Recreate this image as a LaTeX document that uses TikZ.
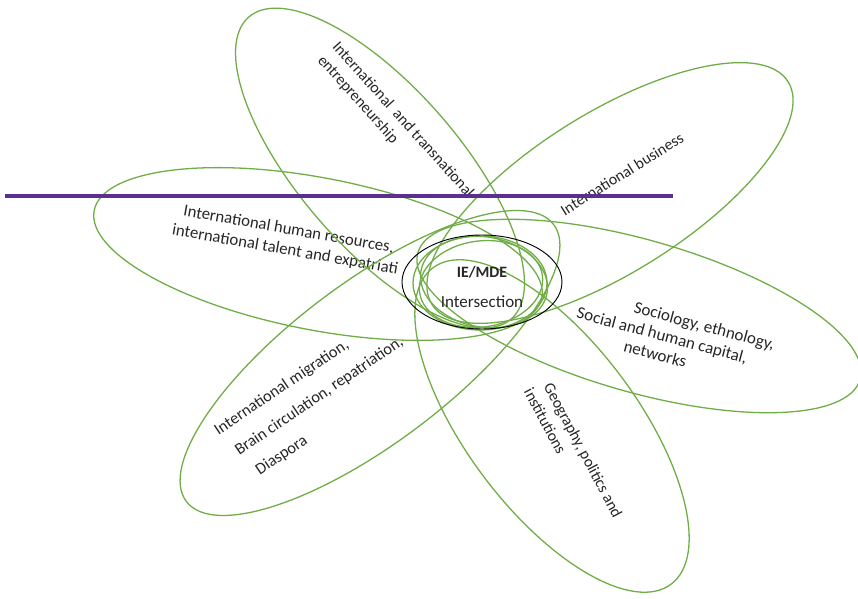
\documentclass[tikz,border=0pt]{standalone}
\usepackage{fontspec}
\setmainfont{Carlito}
\definecolor{petalgreen}{RGB}{112,173,71}
\definecolor{textgray}{RGB}{38,38,38}
\definecolor{rulepurple}{RGB}{92,46,145}

\begin{document}
\begin{tikzpicture}[x=0.03cm,y=-0.03cm,
  petal/.style={draw=petalgreen,line width=1.1pt},
  lbl/.style={text=textgray,font=\fontsize{13.5}{17}\selectfont,inner sep=0pt,align=left}]
  \useasboundingbox (0,0) rectangle (858,599);
  % labels of the petals
  \node[lbl,rotate=-48,anchor=north west] (entre) at (340,40) {International\ \ and transnational\\entrepreneurship};
  \node[lbl,rotate=32] (busi) at (622,174) {International business};
  \node[lbl,rotate=-10,align=center,font=\fontsize{14.3}{17.5}\selectfont] (hr) at (287,240) {International human resources,\\international talent and expatriati};
  \node[lbl,rotate=-15,anchor=north west,font=\fontsize{14.5}{17}\selectfont] (socio) at (584,287) {\hspace*{46pt}Sociology, ethnology,\\Social and human capital,\\\hspace*{46pt}networks};
  \node[lbl,rotate=34,anchor=north west,font=\fontsize{14}{24}\selectfont] (migr) at (212,426) {International migration,\\\hspace*{5pt}Brain circulation, repatriation,\\\hspace*{10pt}Diaspora};
  \node[lbl,rotate=-62,anchor=north west] (geo) at (551,377) {\hspace*{4pt}Geography, politics and\\institutions};
  % the six petals
  \draw[petal,rotate around={-49:(380,168)}] (380,168) ellipse (200 and 80);
  \draw[petal,rotate around={32:(610,193)}] (610,193) ellipse (210 and 80);
  \draw[petal,rotate around={-11:(318,254)}] (318,254) ellipse (228 and 76);
  \draw[petal,rotate around={-16:(639,316)}] (639,316) ellipse (230 and 76);
  \draw[petal,rotate around={37:(370,363)}] (370,363) ellipse (230 and 80);
  \draw[petal,rotate around={-53:(552,426)}] (552,426) ellipse (198 and 85);
  % centre
  \draw[petal] (480,283) ellipse (67 and 47);
  \draw[petal,rotate around={8:(481,284)}] (481,284) ellipse (62 and 43);
  \draw[petal,rotate around={-10:(484,282)}] (484,282) ellipse (64 and 45);
  \draw[line width=0.8pt] (482,282) ellipse (80 and 47);
  \node[text=textgray,font=\bfseries\fontsize{13.5}{15}\selectfont] (iemde) at (482,272) {IE/MDE};
  \node[text=textgray,font=\fontsize{14.5}{16}\selectfont] (inter) at (482,302) {Intersection};
  % horizontal rule
  \coordinate (ruleL) at (5,196);
  \coordinate (ruleR) at (673,196);
  \draw[rulepurple,line width=2.6pt] (ruleL) -- (ruleR);
\end{tikzpicture}
\end{document}
